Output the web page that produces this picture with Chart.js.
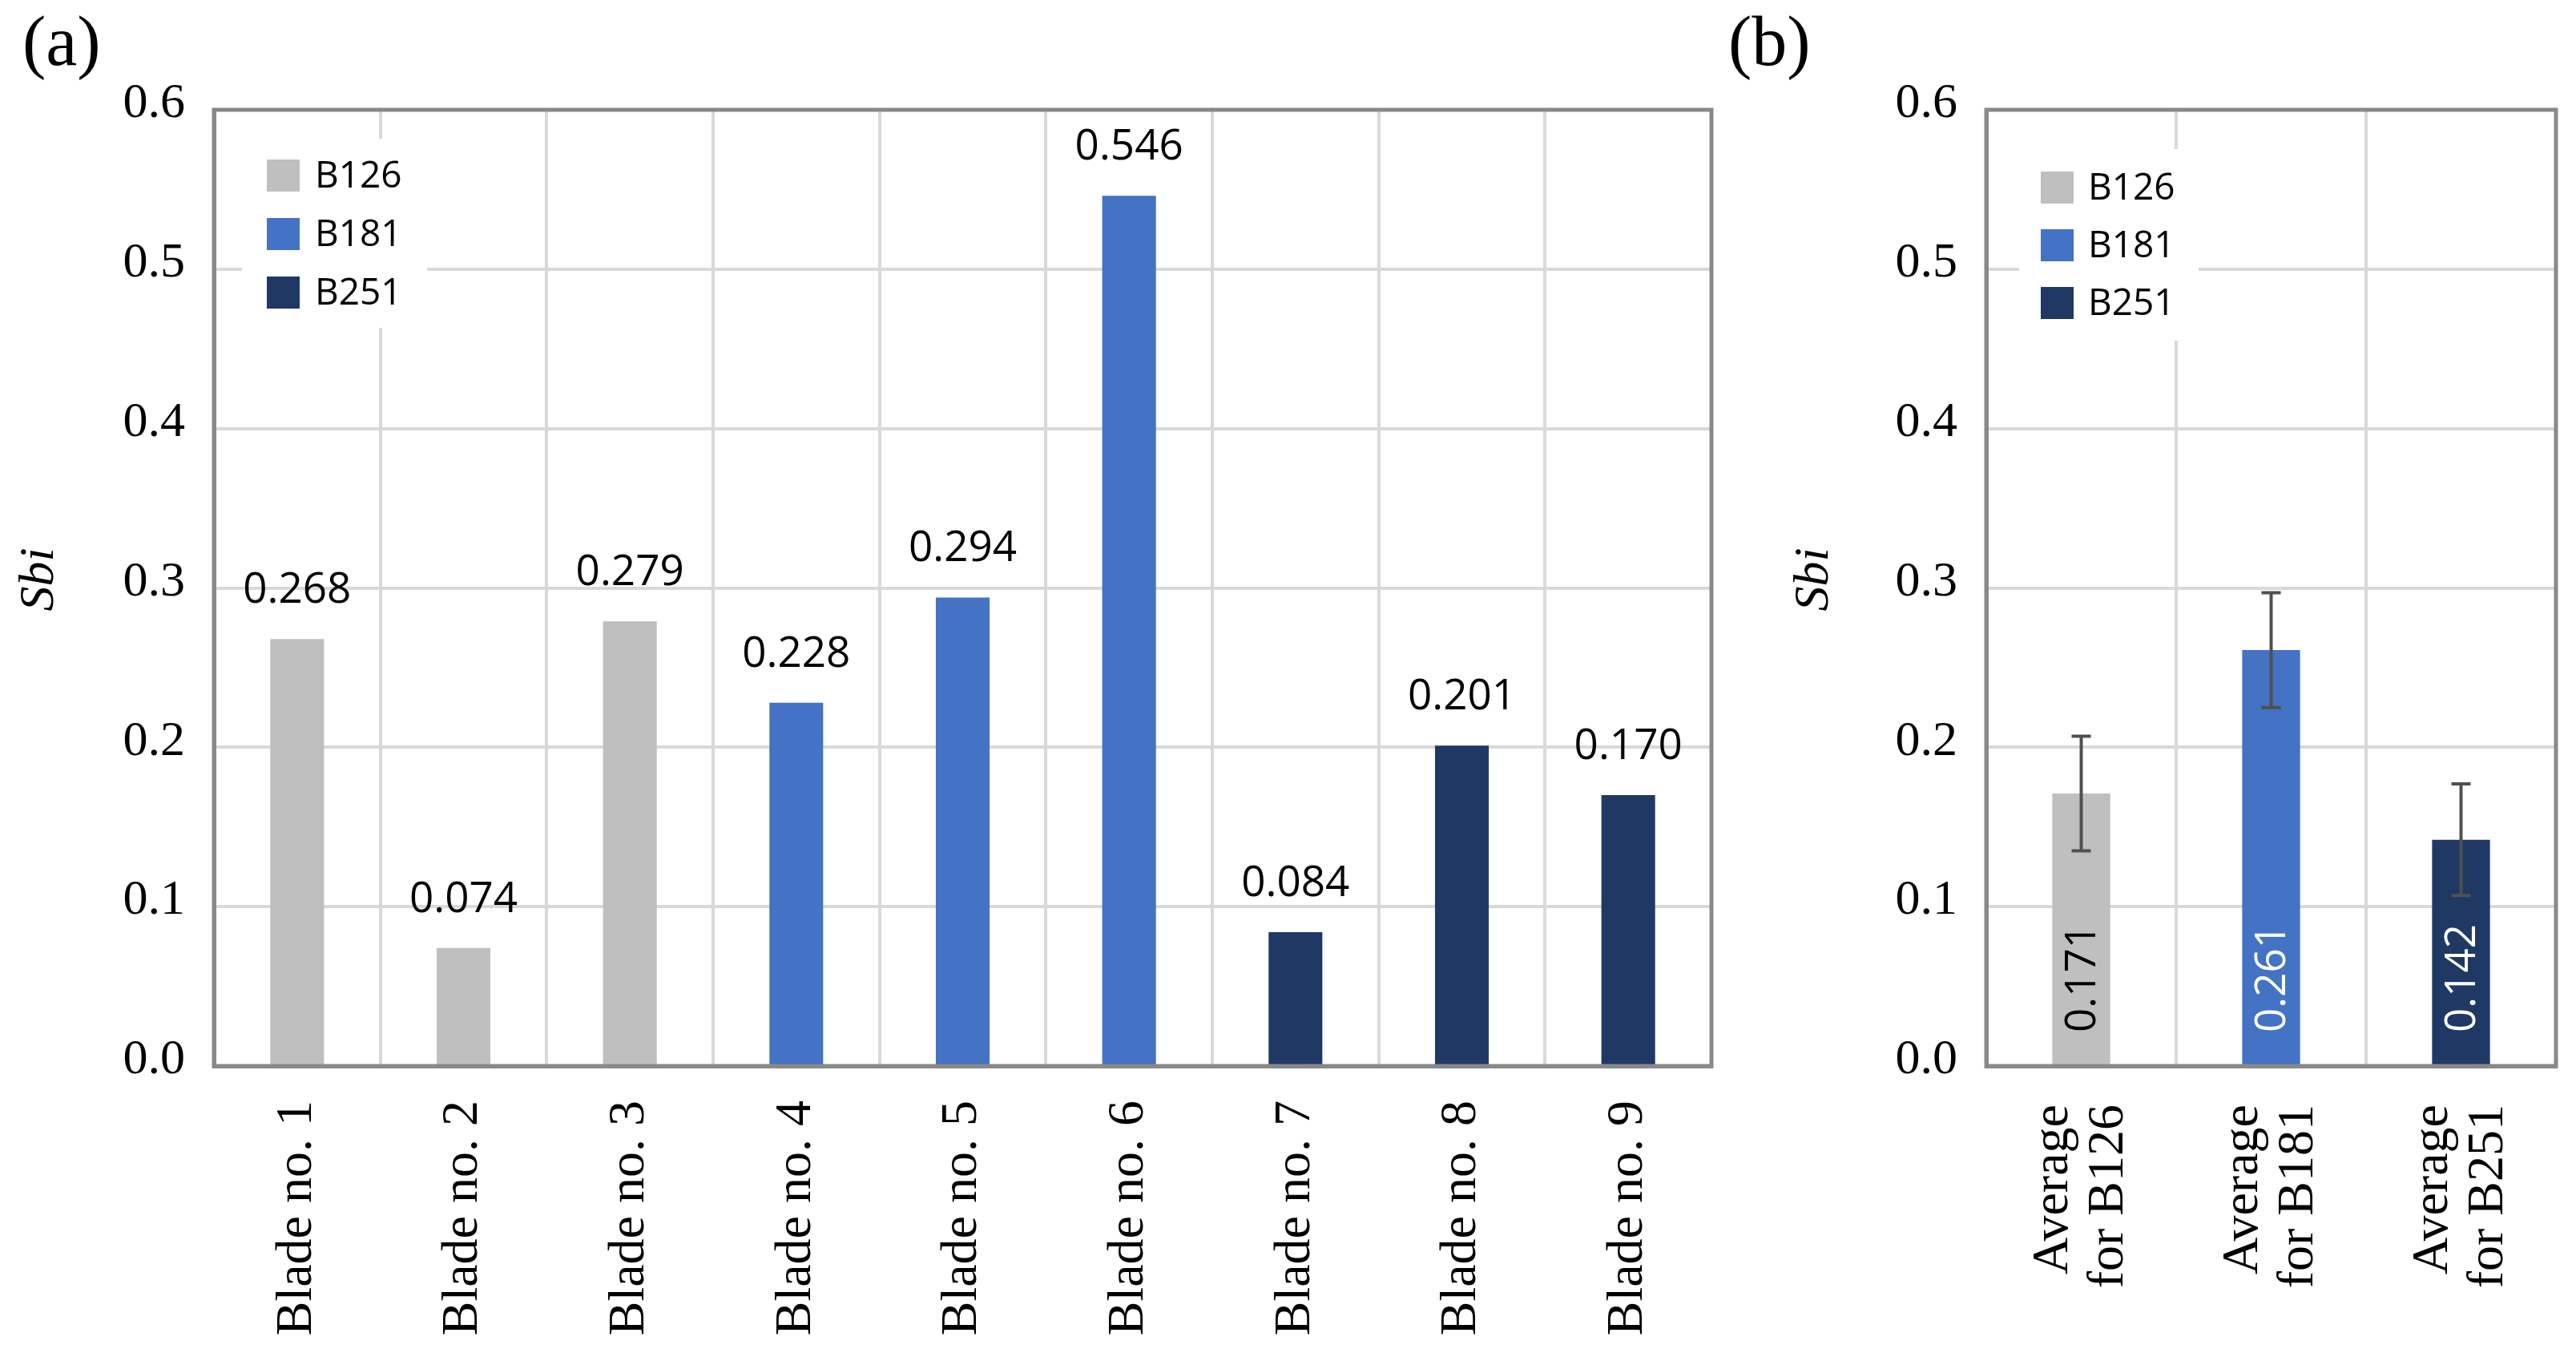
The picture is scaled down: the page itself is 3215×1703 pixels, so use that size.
<!DOCTYPE html>
<html>
<head>
<meta charset="utf-8">
<script src="https://cdn.jsdelivr.net/npm/chart.js@4.4.0/dist/chart.umd.min.js"></script>
<style>
html,body{margin:0;padding:0;background:#fff;}
#wrap{position:relative;width:3215px;height:1703px;background:#fff;overflow:hidden;}
canvas{position:absolute;top:0;}
</style>
</head>
<body>
<div id="wrap">
<canvas id="ca" width="2140" height="1703" style="left:0px"></canvas>
<canvas id="cb" width="1075" height="1703" style="left:2140px"></canvas>
</div>
<script>
// ---------- DATA ----------
const blades = ['Blade no. 1','Blade no. 2','Blade no. 3','Blade no. 4','Blade no. 5','Blade no. 6','Blade no. 7','Blade no. 8','Blade no. 9'];
const bladeSbi = [0.268,0.074,0.279,0.228,0.294,0.546,0.084,0.201,0.170];
const bladeGroup = ['B126','B126','B126','B181','B181','B181','B251','B251','B251'];
const groups = ['B126','B181','B251'];
const avgLabels = [['Average','for B126'],['Average','for B181'],['Average','for B251']];
const avgSbi = [0.171,0.261,0.142];
const avgErr = [0.036,0.036,0.035];
const yTickValues = [0.0,0.1,0.2,0.3,0.4,0.5,0.6];
const yTitle = 'Sbi';
const panelTitles = ['(a)','(b)'];

// ---------- STYLE ----------
const groupColors = ['#BFBFBF','#4472C4','#203864'];
const insideLabelColors = ['#000000','#ffffff','#ffffff'];
const SERIF = '"Liberation Serif","Times New Roman",serif';
const SANS = '"Open Sans","Noto Sans",sans-serif';
const GRID = '#d9d9d9';
const FRAME = '#898989';
function colorOf(g){ return groupColors[groups.indexOf(g)]; }

// frame + legend + titles plugin factory
function decorPlugin(cfg){
  return {
    id:'decor'+cfg.name,
    beforeDatasetsDraw(chart){
      const ctx = chart.ctx;
      ctx.save();
      ctx.fillStyle = '#fff';
      ctx.fillRect(cfg.legBox.x, cfg.legBox.y, cfg.legBox.w, cfg.legBox.h);
      groups.forEach((g,i)=>{
        const sy = cfg.legSqY + i*cfg.legStep;
        ctx.fillStyle = groupColors[i];
        ctx.fillRect(cfg.legSqX, sy, 41, 40);
        ctx.fillStyle = '#000';
        ctx.font = '46px ' + SANS;
        ctx.textAlign = 'left';
        ctx.textBaseline = 'middle';
        ctx.fillText(g, cfg.legTextX, sy + 22);
      });
      ctx.restore();
    },
    afterDatasetsDraw(chart){
      const ctx = chart.ctx, a = chart.chartArea;
      ctx.save();
      ctx.strokeStyle = FRAME;
      ctx.lineWidth = 5;
      ctx.strokeRect(a.left, a.top, a.right - a.left, a.bottom - a.top);
      ctx.restore();
    },
    afterDraw(chart){
      const ctx = chart.ctx;
      ctx.save();
      ctx.fillStyle = '#000';
      ctx.font = '88px ' + SERIF;
      ctx.textAlign = 'left';
      ctx.textBaseline = 'alphabetic';
      ctx.fillText(cfg.title, cfg.titleX, 81);
      ctx.font = 'italic 62px ' + SERIF;
      ctx.translate(cfg.yTitleX, 723);
      ctx.rotate(-Math.PI/2);
      ctx.textAlign = 'center';
      ctx.textBaseline = 'middle';
      ctx.fillText(yTitle, 0, 0);
      ctx.restore();
    }
  };
}

const labelsAbove = {
  id:'labelsAbove',
  afterDatasetsDraw(chart){
    const ctx = chart.ctx, meta = chart.getDatasetMeta(0);
    ctx.save();
    ctx.fillStyle = '#000';
    ctx.font = '53px ' + SANS;
    ctx.textAlign = 'center';
    ctx.textBaseline = 'alphabetic';
    meta.data.forEach((bar,i)=>{
      ctx.fillText(bladeSbi[i].toFixed(3), bar.x, bar.y - 45);
    });
    ctx.restore();
  }
};

const errAndInside = {
  id:'errAndInside',
  afterDatasetsDraw(chart){
    const ctx = chart.ctx, meta = chart.getDatasetMeta(0), y = chart.scales.y;
    ctx.save();
    meta.data.forEach((bar,i)=>{
      const top = y.getPixelForValue(avgSbi[i] + avgErr[i]);
      const bot = y.getPixelForValue(avgSbi[i] - avgErr[i]);
      ctx.strokeStyle = '#505050';
      ctx.lineWidth = 4;
      ctx.beginPath();
      ctx.moveTo(bar.x, top); ctx.lineTo(bar.x, bot);
      ctx.moveTo(bar.x - 12, top); ctx.lineTo(bar.x + 12, top);
      ctx.moveTo(bar.x - 12, bot); ctx.lineTo(bar.x + 12, bot);
      ctx.stroke();
      ctx.save();
      ctx.translate(bar.x + 2, y.getPixelForValue(0) - 42);
      ctx.rotate(-Math.PI/2);
      ctx.font = '53px ' + SANS;
      ctx.textAlign = 'left';
      ctx.textBaseline = 'middle';
      ctx.fillStyle = insideLabelColors[i];
      ctx.fillText(avgSbi[i].toFixed(3), 0, 0);
      ctx.restore();
    });
    ctx.restore();
  }
};

function yScale(width){
  return {
    min:0, max:0.6,
    afterBuildTicks(s){ s.ticks = yTickValues.map(v=>({value:v})); },
    ticks:{ callback:v=>Number(v).toFixed(1), font:{family:SERIF,size:62}, color:'#000', padding:36, labelOffset:-7 },
    grid:{ color:GRID, lineWidth:4, drawTicks:false },
    border:{ color:FRAME, width:5 },
    afterFit(s){ s.width = width; s.paddingTop = 0; s.paddingBottom = 0; }
  };
}
function xScale(pad, lOff, lh){
  return {
    grid:{ color:GRID, lineWidth:4, drawTicks:false, offset:true },
    border:{ color:FRAME, width:5 },
    ticks:{ font:{family:SERIF,size:64,lineHeight:lh}, color:'#000', maxRotation:90, minRotation:90, padding:pad, autoSkip:false, labelOffset:lOff },
    afterFit(s){ s.height = 373; s.paddingLeft = 0; s.paddingRight = 0; }
  };
}

new Chart(document.getElementById('ca'), {
  type:'bar',
  data:{ labels:blades, datasets:[{ data:bladeSbi, backgroundColor:bladeGroup.map(colorOf), barPercentage:0.323, categoryPercentage:1 }] },
  options:{
    responsive:false, devicePixelRatio:1, animation:false,
    layout:{ padding:{ top:137, right:4, left:0, bottom:0 } },
    plugins:{ legend:{display:false}, tooltip:{enabled:false} },
    scales:{ x:xScale(43, 0, 1.2), y:yScale(267) }
  },
  plugins:[ decorPlugin({name:'A', title:panelTitles[0], titleX:28, yTitleX:50,
    legBox:{x:302,y:173,w:231,h:236}, legSqX:333, legSqY:199, legStep:73, legTextX:393 }), labelsAbove ]
});

new Chart(document.getElementById('cb'), {
  type:'bar',
  data:{ labels:avgLabels, datasets:[{ data:avgSbi, backgroundColor:groupColors, barPercentage:0.305, categoryPercentage:1 }] },
  options:{
    responsive:false, devicePixelRatio:1, animation:false,
    layout:{ padding:{ top:137, right:25, left:0, bottom:0 } },
    plugins:{ legend:{display:false}, tooltip:{enabled:false} },
    scales:{ x:xScale(48, -34, 1.08), y:yScale(339) }
  },
  plugins:[ decorPlugin({name:'B', title:panelTitles[1], titleX:17, yTitleX:125,
    legBox:{x:380,y:186,w:224,h:239}, legSqX:407, legSqY:214, legStep:72, legTextX:466 }), errAndInside ]
});
</script>
</body>
</html>
